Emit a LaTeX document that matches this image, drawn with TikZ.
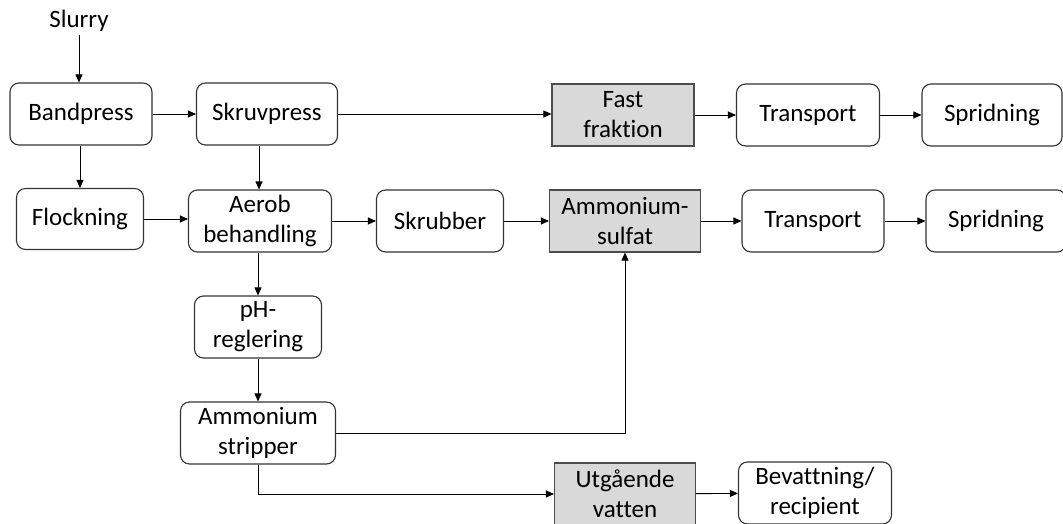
\documentclass[tikz,border=0pt]{standalone}
\usepackage{fontspec}
\setmainfont{Carlito}[Ligatures=NoCommon]
\usetikzlibrary{arrows.meta}
\begin{document}
\begin{tikzpicture}[x=1pt,y=-1pt,
  box/.style={draw=black!80, line width=1.1pt, rounded corners=9pt, align=center, inner sep=0pt,
    font=\fontsize{25}{30}\selectfont},
  grey/.style={draw=black!70, line width=1.1pt, fill=black!15, align=center, inner sep=0pt,
    font=\fontsize{25}{30}\selectfont},
  arr/.style={-{Triangle[length=8pt,width=7pt]}, line width=0.9pt}]
\useasboundingbox (0,0) rectangle (1063,523);
\node[font=\fontsize{25}{30}\selectfont] (slurry) at (79,21) {Slurry};
\node[box, minimum width=142pt, minimum height=62pt] (band) at (81,114) {Bandpress};
\node[box, minimum width=141pt, minimum height=62pt] (skruv) at (267,114) {Skruvpress};
\node[grey, minimum width=142pt, minimum height=62pt] (fast) at (623,115) {Fast\\fraktion};
\node[box, minimum width=143pt, minimum height=62pt] (tr1) at (808,115) {Transport};
\node[box, minimum width=140pt, minimum height=62pt] (sp1) at (992,115) {Spridning};
\node[box, minimum width=127pt, minimum height=61pt] (flock) at (80,219) {Flockning};
\node[box, minimum width=143pt, minimum height=62pt] (aerob) at (260,221) {Aerob\\behandling};
\node[box, minimum width=127pt, minimum height=62pt] (skrub) at (440,221) {Skrubber};
\node[grey, minimum width=151pt, minimum height=62pt] (amsulf) at (625,221) {Ammonium-\\sulfat};
\node[box, minimum width=142pt, minimum height=62pt] (tr2) at (813,221) {Transport};
\node[box, minimum width=140pt, minimum height=62pt] (sp2) at (996,221) {Spridning};
\node[box, minimum width=127pt, minimum height=62pt] (ph) at (258,327) {pH-\\reglering};
\node[box, minimum width=155pt, minimum height=62pt] (strip) at (258,433) {Ammonium\\stripper};
\node[grey, minimum width=141pt, minimum height=62pt] (utg) at (625,494) {Utgående\\vatten};
\node[box, minimum width=153pt, minimum height=62pt] (bev) at (815,493) {Bevattning/\\recipient};
\draw[arr] (slurry.south -| band.north) ++(-2,0) coordinate (s0) -- (s0 |- band.north);
\draw[arr] (band) -- (skruv);
\draw[arr] (skruv.east) -- (fast.west |- skruv.east);
\draw[arr] (fast) -- (tr1);
\draw[arr] (tr1) -- (sp1);
\draw[arr] (band.south -| flock.north) -- (flock.north);
\draw[arr] (skruv.south -| 259,0) coordinate (k0) -- (k0 |- aerob.north);
\draw[arr] (flock) -- (aerob.west |- flock);
\draw[arr] (aerob) -- (skrub);
\draw[arr] (skrub) -- (amsulf);
\draw[arr] (amsulf) -- (tr2);
\draw[arr] (tr2) -- (sp2);
\draw[arr] (aerob.south -| ph.north) -- (ph.north);
\draw[arr] (ph) -- (strip);
\draw[arr] (strip.east) -| (amsulf.south);
\draw[arr] (strip.south) |- (utg.west);
\draw[arr] (utg) -- (bev);
\end{tikzpicture}
\end{document}
